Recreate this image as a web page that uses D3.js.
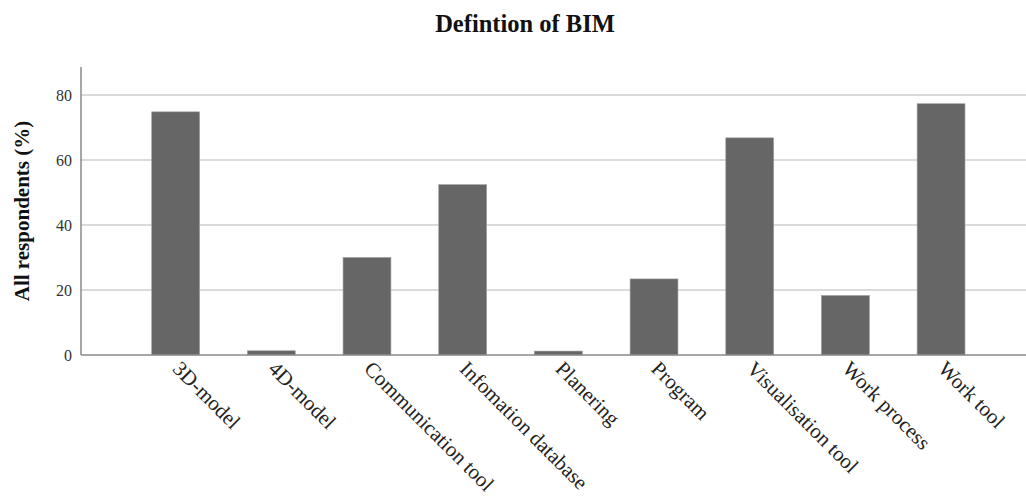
<!DOCTYPE html>
<html><head><meta charset="utf-8">
<script src="https://cdn.jsdelivr.net/npm/d3@7"></script>
<style>body{margin:0;background:#fff}</style>
</head><body>
<svg id="c" width="1026" height="496"></svg>
<script>
const categories = ["3D-model","4D-model","Communication tool","Infomation database","Planering","Program","Visualisation tool","Work process","Work tool"];
const values = [74.8, 1.3, 30.0, 52.4, 1.2, 23.4, 66.8, 18.3, 77.3];
const yTicks = [0, 20, 40, 60, 80];

const svg = d3.select("#c");
const font = "'Liberation Serif','Times New Roman',serif";
const y = d3.scaleLinear().domain([0, 88.6]).range([355, 67]);
const x = d3.scaleBand().domain(categories).range([127.8, 988.9]).paddingInner(0.5).paddingOuter(0.25);
const xLeft = 81, xRight = 1026;

// gridlines
svg.append("g").selectAll("line").data(yTicks.filter(d => d > 0)).join("line")
  .attr("x1", xLeft).attr("x2", xRight)
  .attr("y1", d => y(d)).attr("y2", d => y(d))
  .attr("stroke", "#cfcfcf").attr("stroke-width", 1.5);

// bars
svg.append("g").selectAll("rect").data(values).join("rect")
  .attr("x", (d, i) => x(categories[i]))
  .attr("width", x.bandwidth())
  .attr("y", d => y(d))
  .attr("height", d => y(0) - y(d))
  .attr("fill", "#666666").attr("stroke", "#9a9a9a").attr("stroke-width", 0.6);

// y axis
const ya = svg.append("g").attr("transform", `translate(${xLeft},0)`)
  .call(d3.axisLeft(y).tickValues(yTicks).tickSize(0).tickPadding(9));
ya.select(".domain").remove();
ya.selectAll("text").attr("font-family", font).attr("font-size", 16).attr("fill", "#333");
svg.append("line").attr("x1", xLeft).attr("x2", xLeft).attr("y1", 67).attr("y2", 355)
  .attr("stroke", "#8a8a8a").attr("stroke-width", 1.5);
svg.append("line").attr("x1", xLeft).attr("x2", xRight).attr("y1", 355).attr("y2", 355)
  .attr("stroke", "#8a8a8a").attr("stroke-width", 1.5);

// x labels
const xa = svg.append("g").attr("transform", `translate(0,355)`)
  .call(d3.axisBottom(x).tickSize(0).tickPadding(0));
xa.select(".domain").remove();
xa.selectAll("text")
  .attr("font-family", font).attr("font-size", 21).attr("fill", "#222")
  .attr("text-anchor", "start").attr("y", 0).attr("dy", "0.68em")
  .attr("transform", "translate(6,5) rotate(45)");

// title
svg.append("text").attr("x", 525).attr("y", 32).attr("text-anchor", "middle")
  .attr("font-family", font).attr("font-weight", "bold").attr("font-size", 24.5).attr("fill", "#111")
  .text("Defintion of BIM");

// y label
svg.append("text").attr("transform", "translate(29,211) rotate(-90)").attr("text-anchor", "middle")
  .attr("font-family", font).attr("font-weight", "bold").attr("font-size", 21).attr("fill", "#111")
  .text("All respondents (%)");
</script>
</body></html>
